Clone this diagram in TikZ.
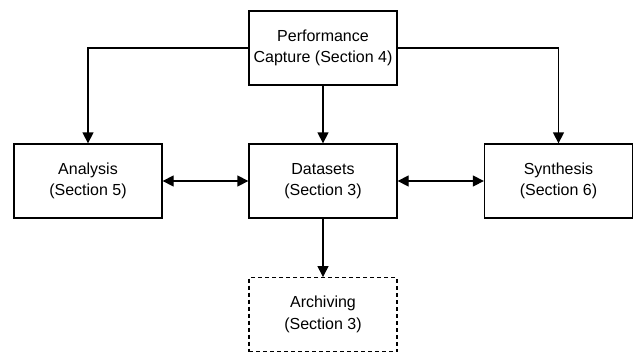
\documentclass[tikz,border=0pt]{standalone}
\usepackage{fontspec}
\setmainfont{Liberation Sans}
\usetikzlibrary{arrows.meta}
\tikzset{
    block/.style={draw,line width=1.3pt,minimum width=148pt,minimum height=74pt,
        align=center,font=\fontsize{16}{21.7}\selectfont},
    link/.style={line width=1.3pt,-{Triangle[length=11pt,width=11pt]}},
    biglink/.style={line width=1.3pt,{Triangle[length=11pt,width=11pt]}-{Triangle[length=11pt,width=11pt]}}
}
\begin{document}
\begin{tikzpicture}[x=1pt,y=1pt]
        \useasboundingbox (0,0) rectangle (633,-354);
        %% Boxes
        \node[block] (capture) at (323,-48) {Performance\\Capture (Section 4)};
        \node[block] (analysis) at (88,-181) {Analysis\\(Section 5)};
        \node[block] (datasets) at (323,-181) {Datasets\\(Section 3)};
        \node[block] (synthesis) at (558.5,-181) {Synthesis\\(Section 6)};
        \node[block,dashed,dash pattern=on 4pt off 3pt] (archiving) at (323,-314.7) {Archiving\\(Section 3)};
        %% Capture feeds
        \draw[link] (capture.west) -| (analysis.north);
        \draw[link] (capture.east) -| (synthesis.north);
        \draw[link] (capture.south) -- (datasets.north);
        %% Dataset exchange
        \draw[biglink] (analysis.east) -- (datasets.west);
        \draw[biglink] (datasets.east) -- (synthesis.west);
        \draw[link] (datasets.south) -- (archiving.north);
    \end{tikzpicture}
\end{document}
